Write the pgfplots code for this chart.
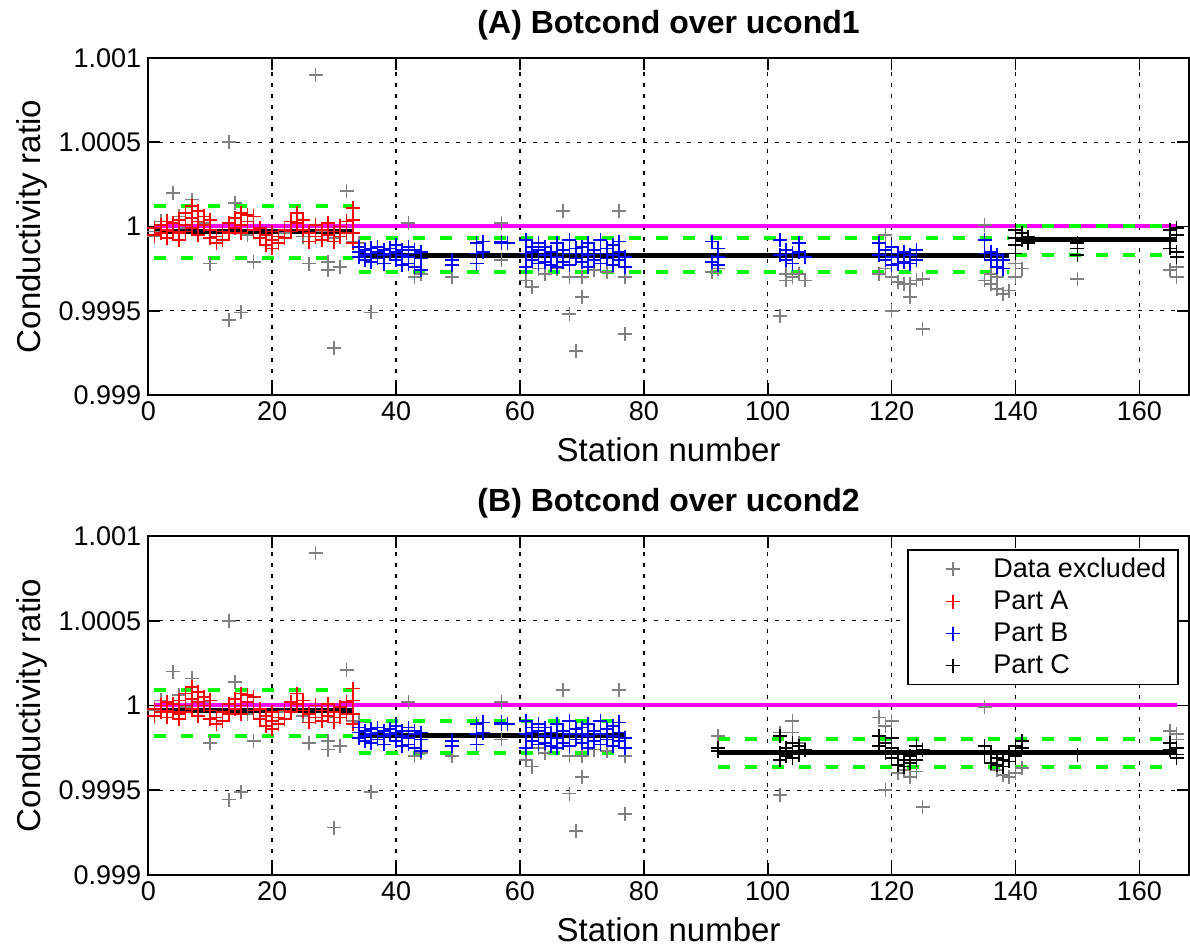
\documentclass[border=0pt]{standalone}
\usepackage{fontspec}
\setmainfont{Liberation Sans}
\usepackage{pgfplots}
\pgfplotsset{compat=1.18}
\definecolor{excl}{RGB}{128,128,128}
\definecolor{mag}{RGB}{255,0,255}
\definecolor{grn}{RGB}{0,255,0}
\pgfplotsset{
 condax/.style={
  scale only axis, width=520.3pt,
  xmin=0, xmax=168, ymin=0.999, ymax=1.001,
  xtick={0,20,...,160},
  ytick={0.999,0.9995,1,1.0005,1.001},
  yticklabels={0.999,0.9995,1,1.0005,1.001},
  tick align=inside, major tick length=6pt,
  /pgf/number format/assume math mode=true,
  tick label style={font=\fontsize{13.5}{16}\selectfont},
  grid=major,
  major grid style={black, line width=0.7pt, dash pattern=on 2pt off 3.5pt},
  axis line style={line width=0.8pt},
  every tick/.style={black, line width=0.8pt},
  title style={font=\bfseries\fontsize{16}{19}\selectfont, at={(axis description cs:0.5,1)}, anchor=base, yshift=6pt},
  xlabel={Station number},
  xlabel style={font=\fontsize{16.5}{20}\selectfont, at={(axis description cs:0.5,0)}, anchor=base, yshift=-33.3pt},
  ylabel={Conductivity ratio},
  ylabel style={font=\fontsize{16.5}{20}\selectfont, at={(axis description cs:-0.1118,0.5)}, anchor=center},
 },
 lgim/.style={legend image code/.code={\path (0pt,-3pt) (36pt,3pt); \draw[mark repeat=2,mark phase=2,##1] plot coordinates {(0pt,0pt) (18pt,0pt) (36pt,0pt)};}},
 excl/.style={only marks, mark=+, mark size=3.5pt, color=excl, mark options={line width=0.85pt}, lgim},
 pa/.style={only marks, mark=+, mark size=3.5pt, color=red, mark options={line width=0.85pt}, lgim},
 pb/.style={only marks, mark=+, mark size=3.5pt, color=blue, mark options={line width=0.85pt}, lgim},
 pc/.style={only marks, mark=+, mark size=3.5pt, color=black, mark options={line width=0.85pt}, lgim},
 magl/.style={mag, line width=2pt, forget plot},
 grnl/.style={grn, line width=2pt, dash pattern=on 6pt off 7.5pt, forget plot},
 blkl/.style={black, line width=2.5pt, forget plot},
}
\begin{document}
\begin{tikzpicture}
\path[use as bounding box] (0,0) rectangle (595pt,473pt);
% ---------------- (A) ----------------
\begin{axis}[condax, height=168.5pt, at={(74.15pt,275.5pt)}, anchor=south west,
  title={(A) Botcond over ucond1}]
\addplot[magl] coordinates {(1,1) (166,1)};
\addplot[grnl] coordinates {(1,1.00012) (33,1.00012)};
\addplot[grnl] coordinates {(1,0.99981) (33,0.99981)};
\addplot[grnl] coordinates {(34,0.99993) (139,0.99993)};
\addplot[grnl] coordinates {(34,0.99973) (139,0.99973)};
\addplot[grnl] coordinates {(140,1) (166,1)};
\addplot[grnl] coordinates {(140,0.99983) (166,0.99983)};
\addplot[blkl] coordinates {(1,0.99997) (33,0.99997)};
\addplot[blkl] coordinates {(34,0.99983) (139,0.99983)};
\addplot[blkl] coordinates {(140,0.99992) (166,0.99992)};
\addplot[excl] coordinates {
(1,0.99994) (1,0.99997) (2,1.00003) (4,1.0002) (5,1.00006) (6,0.99999) (7,1.00016) (9,1.00002)
(10,0.99978) (13,1.0005) (13,0.999445) (14,1.00014) (15,0.99949) (16,0.99995) (17,0.99979)
(22,0.99996) (25,0.99994) (26,0.99978) (27,1.0009) (28,0.99997) (29,0.99979) (29,0.99974)
(30,0.99928) (30,0.99993) (31,0.99976) (32,1.00021) (33,0.99991) (34,0.9999) (36,0.99949)
(42,1.00002) (43,0.9997) (44,0.99972) (49,0.9997) (57,1.00002) (57,0.9998) (61,0.99968)
(62,0.99964) (63,0.99975) (64,0.99972) (66,0.99975) (67,1.00009) (68,0.9997) (68,0.99948)
(69,0.99926) (70,0.99958) (70,0.9997) (72,0.99974) (74,0.99973) (76,1.00009) (77,0.9997)
(77,0.99936) (91,0.99973) (92,0.99975) (102,0.99947) (103,0.99972) (103,0.99968) (104,0.9997)
(105,0.99972) (106,0.99968) (118,0.99972) (119,0.99995) (119,0.99975) (120,0.9995) (120,0.9997)
(121,0.99967) (122,0.99966) (123,0.99966) (123,0.99958) (124,0.99968) (125,0.99969) (125,0.99939)
(135,1.00001) (135,0.99968) (136,0.99972) (136,0.99966) (137,0.9997) (137,0.99963) (138,0.9996)
(139,0.99962) (140,0.9997) (140,0.99978) (141,0.99975) (150,0.99969) (165,0.99974) (166,0.99982)
(166,0.99976) (166,0.9997)};
\addplot[pa] coordinates {
(1,0.99995) (1,0.99999) (2,1.00001) (2,0.99996) (3,0.99998) (3,1.00003) (3,0.99993) (4,1.00002)
(4,0.99997) (5,0.99996) (5,1.00004) (5,0.99992) (6,1.00001) (6,1.00008) (6,0.99997) (7,1.00005)
(7,1.00012) (7,0.99999) (8,1.00009) (8,1.00003) (8,0.99995) (9,1.00006) (9,1.00001) (10,0.99998)
(10,1.00004) (10,0.99993) (11,0.99994) (11,0.9999) (12,0.99997) (12,0.99992) (13,1.00002)
(13,0.99996) (14,1.00005) (14,0.99999) (15,1.00008) (15,1.00001) (15,0.99996) (16,1.00003)
(16,1.00007) (17,1.00006) (17,0.99998) (18,0.99999) (18,0.99993) (19,0.99995) (19,0.99989)
(20,0.99997) (20,0.99987) (20,0.99992) (21,0.99994) (21,0.9999) (22,0.99998) (22,0.99993)
(23,1.00003) (23,0.99997) (24,1.00008) (24,1.00002) (25,1.00004) (25,0.99998) (26,0.99996)
(26,0.99991) (27,1.00001) (27,0.99994) (28,0.99998) (28,0.99992) (29,1.00002) (29,0.99995)
(30,0.99997) (30,0.99991) (31,1.0) (31,0.99994) (32,0.99996) (32,1.00003) (33,1.00011)
(33,1.00004) (33,0.99996) (33,0.9999)};
\addplot[pb] coordinates {
(34,0.99985) (34,0.99982) (34,0.99988) (35,0.99986) (35,0.9998) (35,0.99983) (36,0.99984)
(36,0.99987) (36,0.99979) (37,0.99988) (37,0.99985) (37,0.99981) (38,0.99983) (38,0.99986)
(38,0.99978) (39,0.99987) (39,0.99984) (40,0.99985) (40,0.9998) (40,0.99989) (41,0.99983)
(41,0.99986) (41,0.99977) (42,0.99988) (42,0.99982) (42,0.99978) (43,0.99984) (43,0.99976)
(43,0.99986) (44,0.99985) (44,0.99981) (44,0.99974) (49,0.9998) (49,0.99977) (53,0.9999)
(53,0.99984) (53,0.99978) (54,0.99991) (54,0.99985) (57,0.99991) (57,0.9999) (58,0.9999)
(61,0.99992) (61,0.99984) (61,0.99976) (62,0.99988) (62,0.9998) (62,0.99985) (63,0.99986)
(63,0.99978) (63,0.9999) (64,0.99983) (64,0.99988) (64,0.99979) (65,0.99985) (65,0.99977)
(66,0.9999) (66,0.99982) (66,0.99976) (67,0.99986) (67,0.99979) (68,0.99984) (68,0.99992)
(68,0.99977) (69,0.99981) (69,0.99987) (70,0.99988) (70,0.99979) (70,0.99984) (71,0.99983)
(71,0.99976) (71,0.9999) (72,0.99986) (72,0.9998) (73,0.99992) (73,0.99984) (73,0.99978)
(74,0.99987) (74,0.99981) (75,0.99989) (75,0.99983) (75,0.99977) (76,0.99985) (76,0.99991)
(76,0.9998) (77,0.99982) (77,0.99976) (91,0.99991) (91,0.99979) (92,0.99987) (92,0.99982)
(92,0.99977) (102,0.99992) (102,0.99983) (103,0.99986) (103,0.9998) (104,0.99978) (104,0.99984)
(105,0.9999) (105,0.99985) (106,0.99982) (118,0.9999) (118,0.99983) (119,0.99986) (119,0.9998)
(120,0.99988) (120,0.99982) (120,0.99977) (121,0.99984) (121,0.99978) (122,0.99985) (122,0.99979)
(123,0.99983) (123,0.99978) (124,0.99986) (124,0.9998) (135,0.99992) (135,0.99984) (136,0.99985)
(136,0.9998) (137,0.99983) (137,0.99976) (138,0.9998) (138,0.99975)};
\addplot[pc] coordinates {
(140,0.99998) (140,0.99993) (140,0.99989) (140,0.99984) (141,0.99996) (141,0.99992) (142,0.99994)
(142,0.9999) (150,0.9999) (150,0.99987) (150,0.99983) (165,0.99998) (165,0.99992) (165,0.99987)
(166,0.99999) (166,0.99995) (166,0.99985) (166,0.99982)};
\end{axis}
% ---------------- (B) ----------------
\begin{axis}[condax, height=169.5pt, at={(74.15pt,35.5pt)}, anchor=south west,
  title={(B) Botcond over ucond2},
  legend style={at={(1,1)}, anchor=north east, xshift=-5pt, yshift=-6.5pt, draw=black,
    line width=0.8pt, font=\fontsize{13.5}{16}\selectfont, row sep=1.2pt, inner xsep=4pt,
    cells={anchor=west}}]
\addplot[magl] coordinates {(1,1) (166,1)};
\addplot[grnl] coordinates {(1,1.00009) (33,1.00009)};
\addplot[grnl] coordinates {(1,0.99982) (33,0.99982)};
\addplot[grnl] coordinates {(34,0.99991) (77,0.99991)};
\addplot[grnl] coordinates {(34,0.99972) (77,0.99972)};
\addplot[grnl] coordinates {(92,0.9998) (166,0.9998)};
\addplot[grnl] coordinates {(92,0.99964) (166,0.99964)};
\addplot[blkl] coordinates {(1,0.99997) (33,0.99997)};
\addplot[blkl] coordinates {(34,0.99982) (77,0.99982)};
\addplot[blkl] coordinates {(92,0.99972) (166,0.99972)};
\addplot[excl] coordinates {
(1,0.99994) (1,0.99997) (2,1.00003) (4,1.0002) (5,1.00006) (6,0.99999) (7,1.00016) (9,1.00002)
(10,0.99978) (13,1.0005) (13,0.999445) (14,1.00014) (15,0.99949) (16,0.99995) (17,0.99979)
(22,0.99996) (25,0.99994) (26,0.99978) (27,1.0009) (28,0.99997) (29,0.99979) (29,0.99974)
(30,0.99928) (30,0.99993) (31,0.99976) (32,1.00021) (33,0.99991) (34,0.9999) (36,0.99949)
(42,1.00002) (43,0.9997) (44,0.99972) (49,0.9997) (57,1.00002) (57,0.9998) (61,0.99968)
(62,0.99964) (63,0.99975) (64,0.99972) (66,0.99975) (67,1.00009) (68,0.9997) (68,0.99948)
(69,0.99926) (70,0.99958) (70,0.9997) (72,0.99974) (74,0.99973) (76,1.00009) (77,0.9997)
(77,0.99936) (92,0.99982) (102,0.99947) (102,0.99984) (104,0.99991) (104,0.99984) (105,0.99978)
(118,0.99993) (119,0.99988) (119,0.9995) (120,0.99991) (121,0.9996) (122,0.99962) (123,0.99958)
(124,0.99961) (125,0.9994) (135,0.99999) (137,0.99962) (138,0.99959) (139,0.99958) (140,0.9996)
(141,0.99963) (165,0.99985) (166,0.99983) (166,0.9998)};
\addlegendentry{Data excluded}
\addplot[pa] coordinates {
(1,0.99994) (1,0.99998) (2,1.0) (2,0.99996) (3,0.99997) (3,1.00002) (3,0.99993) (4,1.00001)
(4,0.99996) (5,0.99995) (5,1.00003) (5,0.99992) (6,1.0) (6,1.00007) (6,0.99996) (7,1.00004)
(7,1.00011) (7,0.99998) (8,1.00008) (8,1.00002) (8,0.99994) (9,1.00005) (9,1.0) (10,0.99997)
(10,1.00003) (10,0.99992) (11,0.99993) (11,0.99989) (12,0.99996) (12,0.99991) (13,1.00001)
(13,0.99995) (14,1.00004) (14,0.99998) (15,1.00007) (15,1.0) (15,0.99995) (16,1.00002)
(16,1.00006) (17,1.00005) (17,0.99997) (18,0.99998) (18,0.99992) (19,0.99994) (19,0.99988)
(20,0.99996) (20,0.99986) (20,0.99991) (21,0.99993) (21,0.99989) (22,0.99997) (22,0.99992)
(23,1.00002) (23,0.99996) (24,1.00007) (24,1.00001) (25,1.00003) (25,0.99997) (26,0.99995)
(26,0.9999) (27,1.0) (27,0.99993) (28,0.99997) (28,0.99991) (29,1.00001) (29,0.99994)
(30,0.99996) (30,0.9999) (31,0.99999) (31,0.99993) (32,0.99995) (32,1.00002) (33,1.0001)
(33,1.00003) (33,0.99995) (33,0.99989)};
\addlegendentry{Part A}
\addplot[pb] coordinates {
(34,0.99984) (34,0.99981) (34,0.99987) (35,0.99985) (35,0.99979) (35,0.99982) (36,0.99983)
(36,0.99986) (36,0.99978) (37,0.99987) (37,0.99984) (37,0.9998) (38,0.99982) (38,0.99985)
(38,0.99977) (39,0.99986) (39,0.99983) (40,0.99984) (40,0.99979) (40,0.99988) (41,0.99982)
(41,0.99985) (41,0.99976) (42,0.99987) (42,0.99981) (42,0.99977) (43,0.99983) (43,0.99975)
(43,0.99985) (44,0.99984) (44,0.9998) (44,0.99973) (49,0.99979) (49,0.99976) (53,0.99989)
(53,0.99983) (53,0.99977) (54,0.9999) (54,0.99984) (57,0.9999) (57,0.99989) (58,0.99989)
(61,0.99991) (61,0.99983) (61,0.99975) (62,0.99987) (62,0.99979) (62,0.99984) (63,0.99985)
(63,0.99977) (63,0.99989) (64,0.99982) (64,0.99987) (64,0.99978) (65,0.99984) (65,0.99976)
(66,0.99989) (66,0.99981) (66,0.99975) (67,0.99985) (67,0.99978) (68,0.99983) (68,0.99991)
(68,0.99976) (69,0.9998) (69,0.99986) (70,0.99987) (70,0.99978) (70,0.99983) (71,0.99982)
(71,0.99975) (71,0.99989) (72,0.99985) (72,0.99979) (73,0.99991) (73,0.99983) (73,0.99977)
(74,0.99986) (74,0.9998) (75,0.99988) (75,0.99982) (75,0.99976) (76,0.99984) (76,0.9999)
(76,0.99979) (77,0.99981) (77,0.99975)};
\addlegendentry{Part B}
\addplot[pc] coordinates {
(92,0.99975) (92,0.99973) (102,0.99982) (102,0.99972) (102,0.99968) (103,0.99975) (103,0.9997)
(104,0.99978) (104,0.99973) (104,0.99969) (105,0.99976) (105,0.99971) (106,0.99974) (118,0.99982)
(118,0.99976) (119,0.99978) (119,0.99972) (120,0.99981) (120,0.99975) (120,0.99969) (121,0.99971)
(121,0.99965) (122,0.99968) (122,0.99964) (123,0.9997) (123,0.99966) (124,0.99976) (124,0.99972)
(124,0.99968) (125,0.99974) (135,0.99976) (135,0.99971) (136,0.99972) (136,0.99966) (137,0.99969)
(137,0.99965) (138,0.99968) (138,0.99964) (139,0.99972) (139,0.99967) (140,0.99976) (140,0.9997)
(141,0.99979) (141,0.99975) (150,0.99971) (165,0.99978) (165,0.99974) (166,0.99975) (166,0.99971)
(166,0.99969)};
\addlegendentry{Part C}
\end{axis}
\end{tikzpicture}
\end{document}
